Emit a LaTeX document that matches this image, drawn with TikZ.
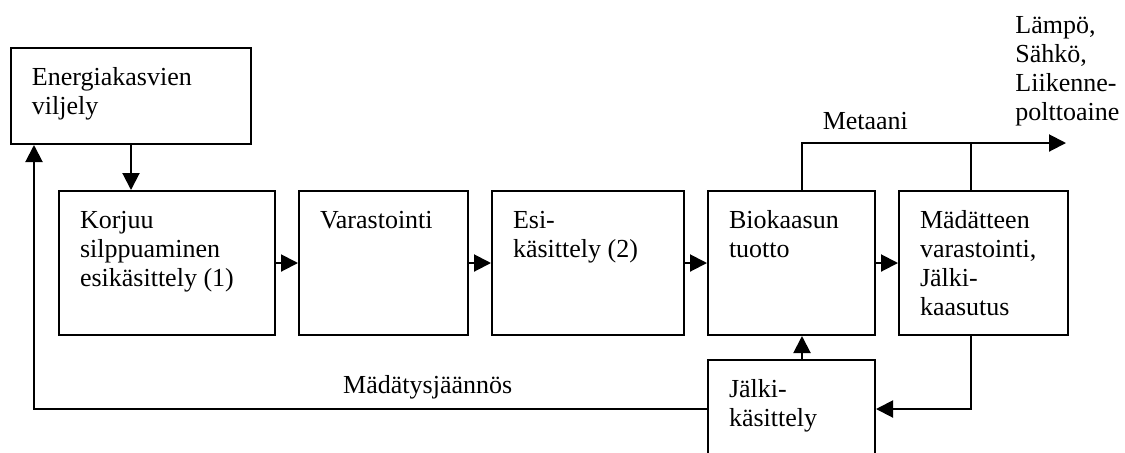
\documentclass[tikz,border=0pt]{standalone}
\usepackage{fontspec}
\setmainfont{Liberation Serif}
\usetikzlibrary{arrows.meta}
\tikzset{
  % laatikko: leveys ja korkeus, teksti vasempaan yläkulmaan
  laatikko/.style 2 args={draw, line width=1pt, anchor=north west,
    inner xsep=10.5pt, inner ysep=8.35pt,
    execute at begin node={\pgfmathsetlengthmacro\lw{#1-21pt}%
      \pgfmathsetlengthmacro\lh{#2-16.7pt}%
      \begin{minipage}[t][\lh][t]{\lw}\raggedright\strut},
    execute at end node={\end{minipage}}},
  nuoli/.style={line width=1pt, -{Triangle[length=8.5pt, width=8.5pt]}},
  viiva/.style={line width=1pt},
}
\begin{document}
\fontsize{13pt}{14.5pt}\selectfont
\begin{tikzpicture}[x=0.5pt, y=-0.5pt]
    \useasboundingbox (0,0) rectangle (1125,452);
    % Laatikot (sijainti = vasen yläkulma)
    \node[laatikko={120pt}{48pt}] (viljely) at (10,47) {Energiakasvien\\viljely};
    \node[laatikko={108pt}{72pt}] (korjuu) at (58,190) {Korjuu\\silppuaminen\\esikäsittely (1)};
    \node[laatikko={84.5pt}{72pt}] (varasto) at (298,190) {Varastointi};
    \node[laatikko={96pt}{72pt}] (esi) at (491,190) {Esi-\\käsittely (2)};
    \node[laatikko={83.5pt}{72pt}] (bio) at (707,190) {Biokaasun\\tuotto};
    \node[laatikko={84.5pt}{72pt}] (mada) at (898,190) {Mädätteen\\varastointi,\\Jälki-\\kaasutus};
    \node[laatikko={83.5pt}{72pt}] (jalki) at (707,359) {Jälki-\\käsittely};
    % base = viimeisen rivin perusviiva
    \node[anchor=base west, align=left, inner sep=0pt] (tuotteet) at (1015,120) {Lämpö,\\Sähkö,\\Liikenne-\\polttoaine};

    % Apupisteet johdoille
    \coordinate (metaani) at (802,143);
    \coordinate (ulos) at (1066,143);
    \coordinate (haara) at (971,409);
    \coordinate (paluu) at (34,409);

    % Päävirta vasemmalta oikealle
    \draw[nuoli] (viljely.south) -- (viljely.south |- korjuu.north);
    \draw[nuoli] (korjuu) -- (varasto);
    \draw[nuoli] (varasto) -- (esi);
    \draw[nuoli] (esi) -- (bio);
    \draw[nuoli] (bio) -- (mada);

    % Kaasu ulos
    \draw[nuoli] (metaani |- bio.north) |- node[pos=0.62, anchor=base, yshift=6.7pt] {Metaani} (ulos);
    \draw[viiva] (haara |- mada.north) -- (haara |- ulos);

    % Jälkikäsittely ja paluu
    \draw[nuoli] (haara |- mada.south) -- (haara) -- (haara -| jalki.east);
    \draw[nuoli] (metaani |- jalki.north) -- (metaani |- bio.south);
    \draw[nuoli] (paluu -| jalki.west) -- node[pos=0.415, anchor=base, yshift=8pt] {Mädätysjäännös} (paluu) -- (paluu |- viljely.south);
\end{tikzpicture}
\end{document}
